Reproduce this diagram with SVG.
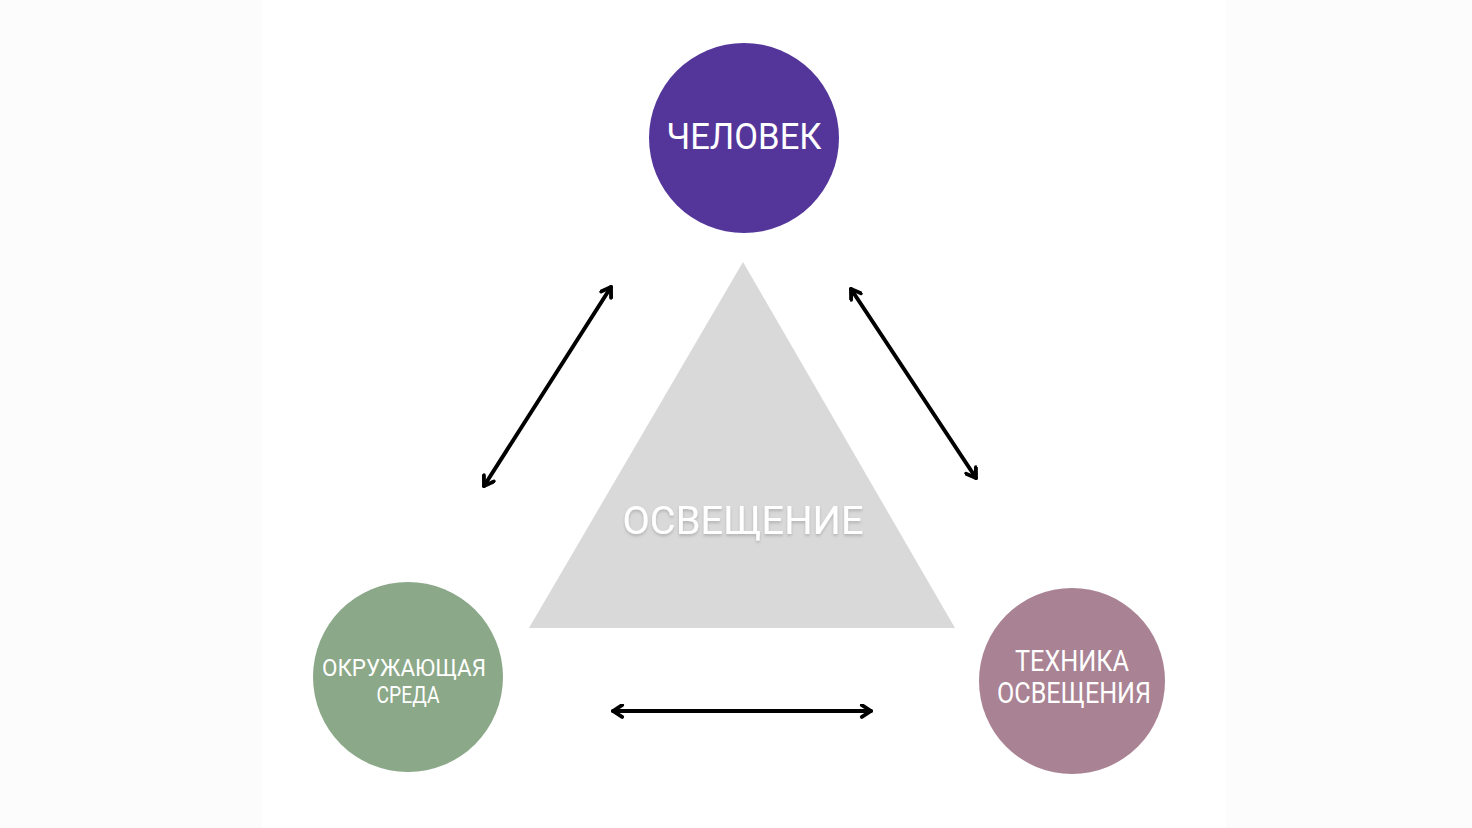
<svg xmlns="http://www.w3.org/2000/svg" width="1472" height="828" viewBox="0 0 1472 828">
<defs>
<style>
.lbl{font-family:Roboto,"Liberation Sans",sans-serif;fill:#ffffff;text-anchor:middle;font-weight:400}
.conn{stroke:#000;stroke-width:4;fill:none;stroke-linecap:round}
</style>
<marker id="arr" viewBox="0 0 14 14" refX="11.5" refY="7" markerWidth="15" markerHeight="15" markerUnits="userSpaceOnUse" orient="auto-start-reverse">
<path d="M3,1.5 L11.5,7 L3,12.5" fill="none" stroke="#000" stroke-width="3.6" stroke-linecap="round" stroke-linejoin="round"/>
</marker>
<filter id="sh" x="-10%" y="-20%" width="120%" height="150%">
<feDropShadow dx="0" dy="2" stdDeviation="1.5" flood-color="#000" flood-opacity="0.18"/>
</filter>
</defs>
<rect x="0" y="0" width="1472" height="828" fill="#fcfcfc"/>
<rect x="262" y="0" width="964" height="828" fill="#ffffff"/>
<g id="osveshchenie">
<polygon points="743,262 955,628 529,628" fill="#d9d9d9"/>
<text class="lbl" x="743" y="534" font-size="39" textLength="241" lengthAdjust="spacingAndGlyphs" filter="url(#sh)">ОСВЕЩЕНИЕ</text>
</g>
<g id="chelovek">
<circle cx="744" cy="138" r="95" fill="#54369b"/>
<text class="lbl" x="744" y="149" font-size="36" font-weight="500" textLength="155" lengthAdjust="spacingAndGlyphs">ЧЕЛОВЕК</text>
</g>
<g id="okruzhayushchaya-sreda">
<circle cx="408" cy="677" r="95" fill="#8ba888"/>
<text class="lbl" x="404" y="676" font-size="24" textLength="164" lengthAdjust="spacingAndGlyphs">ОКРУЖАЮЩАЯ</text>
<text class="lbl" x="408" y="703" font-size="24" textLength="63" lengthAdjust="spacingAndGlyphs">СРЕДА</text>
</g>
<g id="tekhnika-osveshcheniya">
<circle cx="1072" cy="681" r="93" fill="#a98293"/>
<text class="lbl" x="1072" y="671" font-size="29" textLength="114" lengthAdjust="spacingAndGlyphs">ТЕХНИКА</text>
<text class="lbl" x="1074" y="703" font-size="29" textLength="154" lengthAdjust="spacingAndGlyphs">ОСВЕЩЕНИЯ</text>
</g>
<g id="connectors">
<line class="conn" x1="484" y1="486" x2="611" y2="287" marker-start="url(#arr)" marker-end="url(#arr)"/>
<line class="conn" x1="851" y1="289" x2="976" y2="478" marker-start="url(#arr)" marker-end="url(#arr)"/>
<line class="conn" x1="613" y1="711" x2="871" y2="711" marker-start="url(#arr)" marker-end="url(#arr)"/>
</g>
</svg>
